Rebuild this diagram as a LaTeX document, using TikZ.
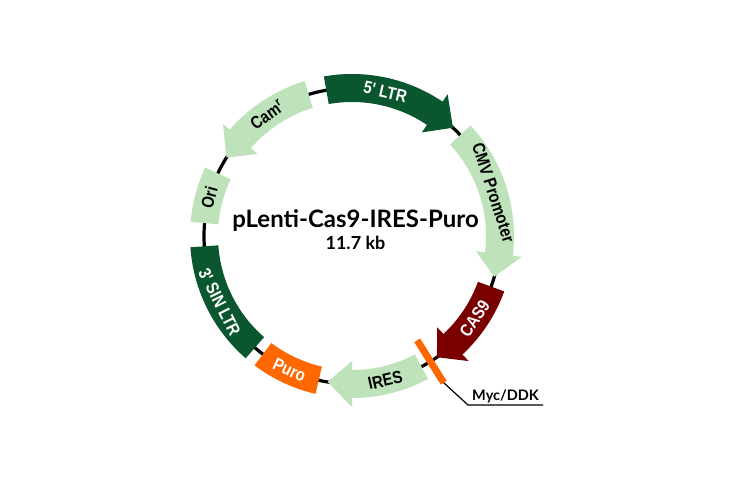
\documentclass[tikz,border=0pt]{standalone}
\usepackage{fontspec}
\setmainfont{Lato}
\newfontfamily\featfont[FakeStretch=0.85]{Liberation Sans}
\usetikzlibrary{positioning}

\definecolor{ltrgreen}{RGB}{10,86,46}
\definecolor{palegreen}{RGB}{190,227,187}
\definecolor{casred}{RGB}{122,0,0}
\definecolor{puroorange}{RGB}{255,104,0}

% arrow on the ring: #1 colour, #2 start angle, #3 head base, #4 tip
\newcommand{\featarrow}[4]{%
  \fill[#1] (#2:162pt) arc[start angle=#2, end angle=#3, radius=162pt]
    -- (#3:171pt) -- (#4:148pt) -- (#3:125pt) -- (#3:134pt)
    arc[start angle=#3, end angle=#2, radius=134pt] -- cycle;}
% plain segment on the ring
\newcommand{\featbox}[3]{%
  \fill[#1] (#2:162pt) arc[start angle=#2, end angle=#3, radius=162pt]
    -- (#3:134pt) arc[start angle=#3, end angle=#2, radius=134pt] -- cycle;}

\begin{document}
\begin{tikzpicture}[
  x=1pt, y=1pt,
  lbl/.style={font=\featfont\bfseries\fontsize{17.5}{17.5}\selectfont, inner sep=0pt},
  wlbl/.style={lbl, text=white},
  ring/.style={line width=3.2pt}
]
\useasboundingbox (-352,-242) rectangle (378,236);

\draw[ring] (0,0) circle[radius=148pt];

\featarrow{ltrgreen}{100}{56}{47}
\featarrow{palegreen}{43}{-7}{-16}
\featarrow{casred}{-20}{-47}{-55}
\featarrow{palegreen}{-62}{-90}{-99.5}
\featbox{puroorange}{-103}{-127}
\featbox{ltrgreen}{184}{229}
\featbox{palegreen}{155}{175}
\featarrow{palegreen}{107}{139}{148}
\draw[puroorange, line width=7pt] (-58:123pt) -- (-58:173pt);

\node[wlbl, rotate=-13] (ltr5) at (77:148pt) {5' LTR};
\node[lbl, rotate=35] (cam) at (125:148pt) {Cam\textsuperscript{r}};
\node[lbl, rotate=-72] (cmv) at (17:148pt) {CMV Promoter};
\node[lbl, rotate=75] (ori) at (165:148pt) {Ori};
\node[wlbl, rotate=-63.5] (ltr3) at (206.5:148pt) {3' SIN LTR};
\node[wlbl, rotate=-25] (puro) at (-115:148pt) {Puro};
\node[lbl, rotate=13] (ires) at (-77:148pt) {IRES};
\node[wlbl, rotate=56] (cas) at (-34:148pt) {CAS9};

\node[font=\bfseries\fontsize{24}{24}\selectfont, inner sep=0pt] (title) at (3.5,15) {pLenti-Cas9-IRES-Puro};
\node[font=\bfseries\fontsize{18}{18}\selectfont, inner sep=0pt, below=4pt of title] (size) {11.7 kb};

\coordinate (mycend) at (-58:173pt);
\coordinate (mycknee) at (116,-169);
\node[anchor=south west, font=\bfseries\fontsize{14.5}{14.5}\selectfont, inner xsep=4pt, inner ysep=2pt] (myclabel) at (mycknee) {Myc/DDK};
\draw[line width=1.2pt] (mycend) -- (mycknee) -- (myclabel.south east);
\end{tikzpicture}
\end{document}
